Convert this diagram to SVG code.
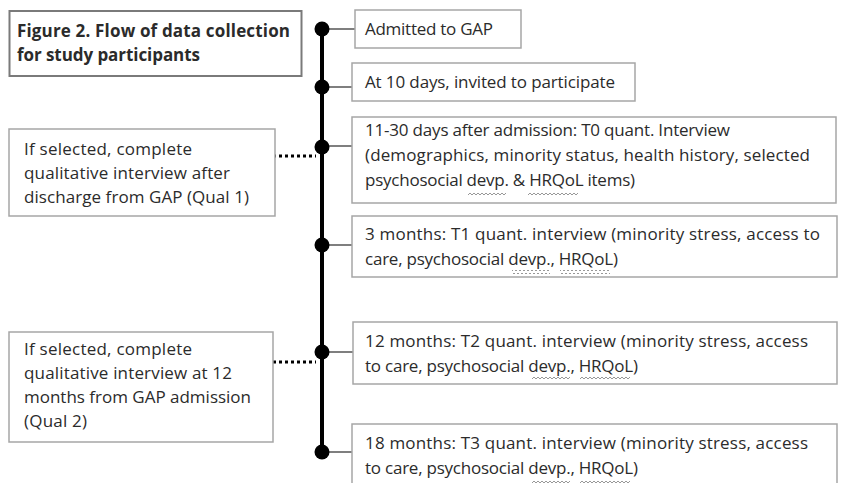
<svg xmlns="http://www.w3.org/2000/svg" width="842" height="483" viewBox="0 0 842 483">
<defs>
<pattern id="wave" x="0" y="0" width="4" height="4" patternUnits="userSpaceOnUse">
<path d="M0,3 L2,1 L4,3" fill="none" stroke="#8c8c8c" stroke-width="0.9"/>
</pattern>
</defs>
<style>
.box{fill:#fff;stroke:#a6a6a6;stroke-width:1.5}
.tbox{fill:#fff;stroke:#7a7a7a;stroke-width:2}
.t{font-family:"Open Sans","Liberation Sans",sans-serif;font-size:17px;fill:#2b2b2b}
.tb{font-family:"Open Sans","Liberation Sans",sans-serif;font-size:17px;font-weight:bold;fill:#2b2b2b}
.spine{stroke:#000;stroke-width:4;fill:none}
.conn{stroke:#555;stroke-width:1.5;fill:none}
.dot{stroke:#000;stroke-width:3;stroke-dasharray:3 3;fill:none}
.node{fill:#000}
.sq{fill:url(#wave)}
</style>
<rect width="842" height="483" fill="#fff"/>
<g id="connectors">
<line class="spine" x1="322" y1="29" x2="322" y2="452"/>
<line class="conn" x1="322" y1="29" x2="355" y2="29"/>
<line class="conn" x1="322" y1="87" x2="352" y2="87"/>
<line class="conn" x1="322" y1="146" x2="352" y2="146"/>
<line class="conn" x1="322" y1="245" x2="352" y2="245"/>
<line class="conn" x1="322" y1="352" x2="353" y2="352"/>
<line class="conn" x1="322" y1="452" x2="352" y2="452"/>
<line class="dot" x1="273" y1="156" x2="316" y2="156"/>
<line class="dot" x1="273" y1="362" x2="316" y2="362"/>
<circle class="node" cx="322" cy="29" r="7.5"/>
<circle class="node" cx="322" cy="87" r="7.5"/>
<circle class="node" cx="322" cy="147" r="7.5"/>
<circle class="node" cx="322" cy="245" r="7.5"/>
<circle class="node" cx="322" cy="352" r="7.5"/>
<circle class="node" cx="322" cy="452" r="7.5"/>
</g>
<g id="title">
<rect class="tbox" x="9.5" y="11" width="292" height="65"/>
<text class="tb" x="17" y="37" textLength="273">Figure 2. Flow of data collection</text>
<text class="tb" x="17" y="61" textLength="183">for study participants</text>
</g>
<g id="admitted">
<rect class="box" x="355" y="10" width="166" height="38"/>
<text class="t" x="365" y="35" textLength="128">Admitted to GAP</text>
</g>
<g id="invited">
<rect class="box" x="352" y="63" width="283" height="38"/>
<text class="t" x="365" y="88" textLength="250">At 10 days, invited to participate</text>
</g>
<g id="t0">
<rect class="box" x="352" y="117" width="484" height="86"/>
<text class="t" x="365" y="136" textLength="365">11-30 days after admission: T0 quant. Interview</text>
<text class="t" x="365" y="161" textLength="445">(demographics, minority status, health history, selected</text>
<text class="t" x="365" y="186" textLength="270">psychosocial devp. &amp; HRQoL items)</text>
<rect class="sq" x="468" y="192" width="38" height="4"/>
<rect class="sq" x="528" y="192" width="50" height="4"/>
</g>
<g id="t1">
<rect class="box" x="352" y="216" width="485" height="61"/>
<text class="t" x="365" y="240" textLength="455">3 months: T1 quant. interview (minority stress, access to</text>
<text class="t" x="365" y="265" textLength="253">care, psychosocial devp., HRQoL)</text>
<rect class="sq" x="512" y="270" width="38" height="4"/>
<rect class="sq" x="560" y="270" width="50" height="4"/>
</g>
<g id="t2">
<rect class="box" x="353" y="322" width="484" height="62"/>
<text class="t" x="365" y="347" textLength="443">12 months: T2 quant. interview (minority stress, access</text>
<text class="t" x="365" y="372" textLength="273">to care, psychosocial devp., HRQoL)</text>
<rect class="sq" x="532" y="377" width="38" height="4"/>
<rect class="sq" x="580" y="377" width="50" height="4"/>
</g>
<g id="t3">
<rect class="box" x="352" y="424" width="485" height="70"/>
<text class="t" x="365" y="449" textLength="443">18 months: T3 quant. interview (minority stress, access</text>
<text class="t" x="365" y="474" textLength="273">to care, psychosocial devp., HRQoL)</text>
<rect class="sq" x="532" y="479" width="38" height="4"/>
<rect class="sq" x="580" y="479" width="50" height="4"/>
</g>
<g id="qual1">
<rect class="box" x="9" y="129" width="266" height="87"/>
<text class="t" x="24" y="155" textLength="168">If selected, complete</text>
<text class="t" x="24" y="179" textLength="206">qualitative interview after</text>
<text class="t" x="24" y="203" textLength="225">discharge from GAP (Qual 1)</text>
</g>
<g id="qual2">
<rect class="box" x="9" y="332" width="264" height="110"/>
<text class="t" x="24" y="355" textLength="168">If selected, complete</text>
<text class="t" x="24" y="379" textLength="208">qualitative interview at 12</text>
<text class="t" x="24" y="403" textLength="227">months from GAP admission</text>
<text class="t" x="24" y="427" textLength="63">(Qual 2)</text>
</g>
</svg>
